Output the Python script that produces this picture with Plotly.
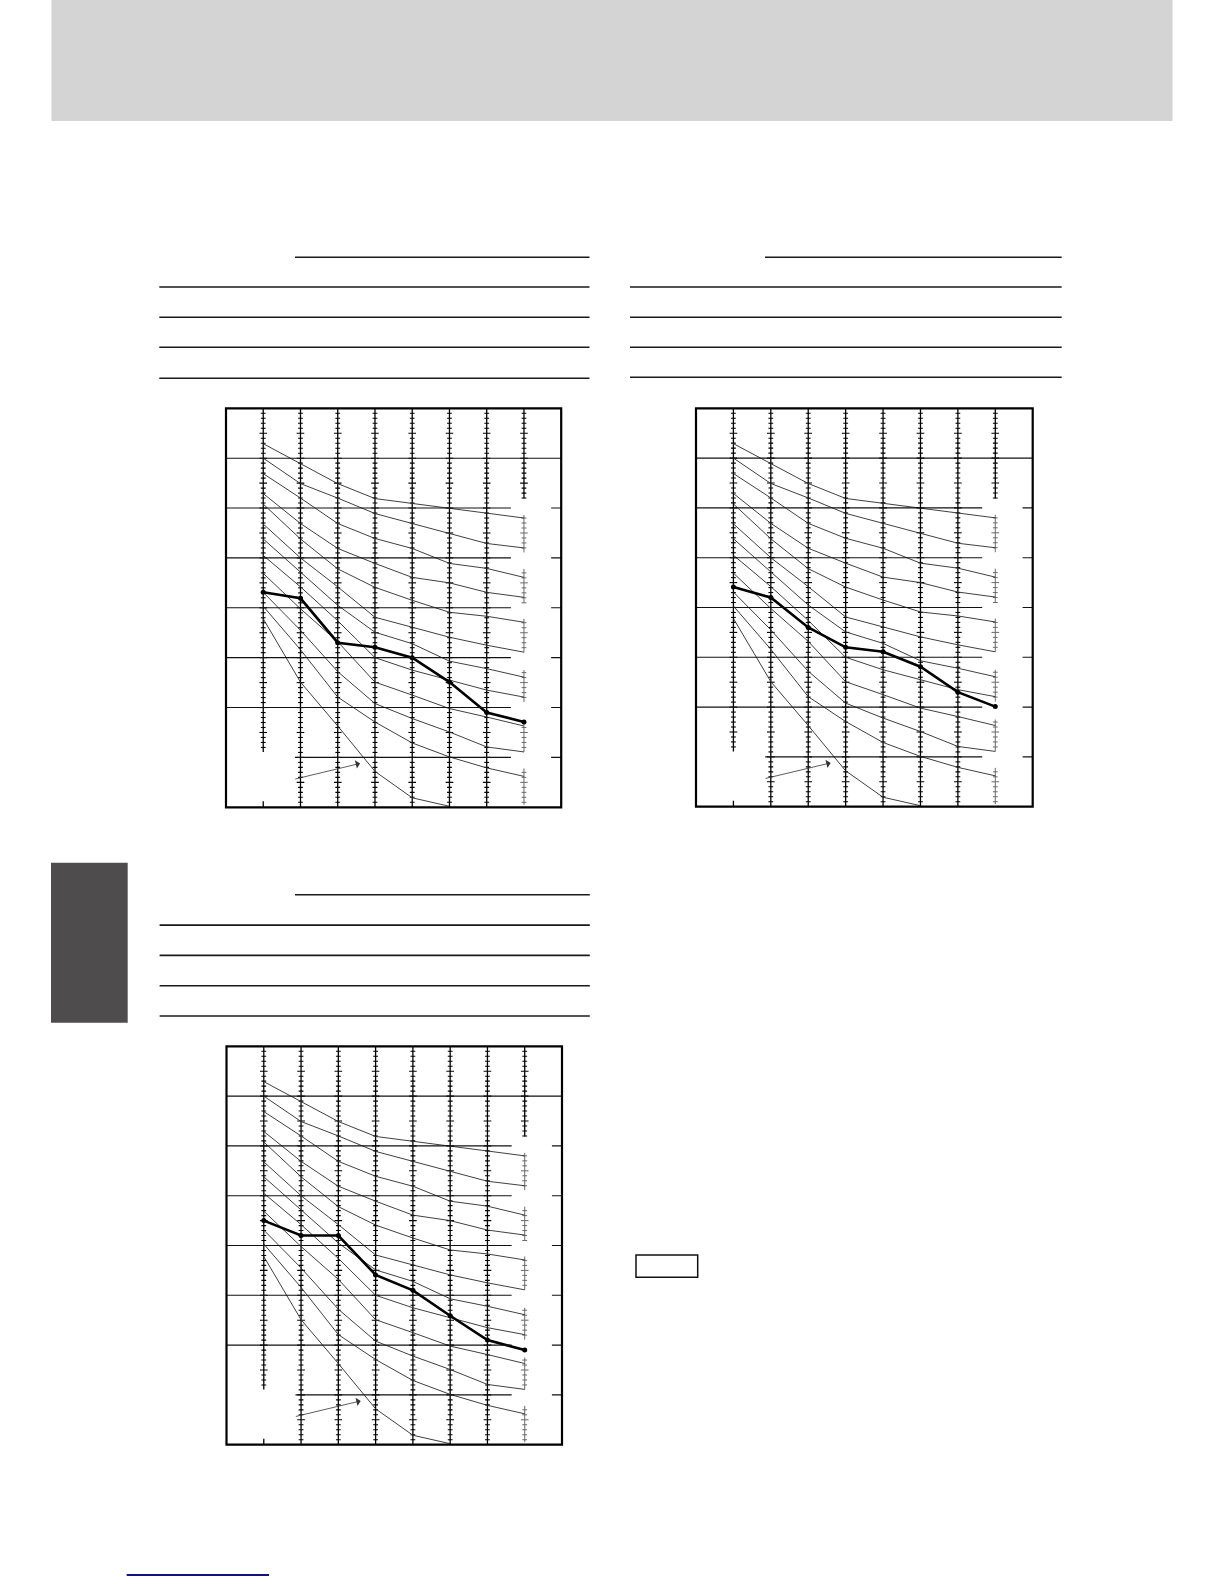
import numpy as np
import plotly.graph_objects as go

W, H = 1224, 1584

# ---- data: 8 vertical scales (x positions 0..7) ----
scale_x = [0, 1, 2, 3, 4, 5, 6, 7]

# thin guide curves (same on all three nomographs)
curve_A = [7.29, 6.89, 6.49, 6.19, 6.09, 5.99, 5.89, 5.80]
curve_B = [7.00, 6.49, 6.20, 5.89, 5.69, 5.49, 5.29, 5.20]
curve_C = [6.69, 6.20, 5.69, 5.39, 5.19, 4.89, 4.79, 4.61]
curve_D = [6.29, 5.69, 5.19, 4.89, 4.61, 4.50, 4.31, 4.21]
curve_E = [6.08, 5.38, 4.78, 4.41, 4.15, 3.91, 3.83, 3.71]
curve_F = [5.68, 5.00, 4.42, 3.81, 3.61, 3.41, 3.25, 3.11]
curve_G = [5.38, 4.72, 4.05, 3.51, 3.28, 2.93, 2.78, 2.61]
curve_H = [5.05, 4.42, 3.74, 3.00, 2.75, 2.55, 2.35, 2.21]
curve_I = [4.69, 3.98, 3.32, 2.51, 2.25, 1.98, 1.81, 1.63]
curve_J = [4.31, 3.55, 2.72, 2.08, 1.78, 1.51, 1.21, 1.11]
curve_K = [4.03, 3.16, 2.21, 1.71, 1.29, 1.01, 0.79, 0.62]
curve_L = [3.78, 2.51, 1.63, 0.72, 0.19, 0.02, None, None]
thin_curves = [curve_A, curve_B, curve_C, curve_D, curve_E, curve_F,
               curve_G, curve_H, curve_I, curve_J, curve_K, curve_L]

# bold result lines of each nomograph
bold_1 = [4.31, 4.19, 3.30, 3.21, 3.00, 2.51, 1.90, 1.71]
bold_2 = [4.41, 4.20, 3.60, 3.20, 3.11, 2.81, 2.30, 2.01]
bold_3 = [4.50, 4.20, 4.20, 3.41, 3.10, 2.59, 2.10, 1.90]
bolds = [bold_1, bold_2, bold_3]

# gridline levels
grid_levels = [1, 2, 3, 4, 5, 6, 7]

# extents of each vertical scale (data y ranges where the scale is drawn)
scale_segments = {
    0: [(1.11, 8.0)],
    1: [(0.0, 8.0)], 2: [(0.0, 8.0)], 3: [(0.0, 8.0)],
    4: [(0.0, 8.0)], 5: [(0.0, 8.0)], 6: [(0.0, 8.0)],
    7: [(6.19, 8.0), (5.11, 5.86), (4.10, 4.78), (3.11, 3.78),
        (2.11, 2.75), (1.11, 1.75), (0.05, 0.78)],
}

# chart placement on the page (pixels: left, top, right, bottom)
boxes = [
    (226.0, 408.3, 561.2, 807.3),
    (696.0, 408.3, 1032.7, 806.7),
    (226.5, 1046.3, 562.0, 1444.7),
]


def px(x):
    return x / W


def py(y):
    return 1 - y / H


fig = go.Figure()
shapes = []
annotations = []

for i, (bl, bt, br, bb) in enumerate(boxes):
    n = "" if i == 0 else str(i + 1)
    xa, ya = "x" + n, "y" + n
    fig.update_layout(**{
        "xaxis" + n: dict(domain=[px(bl), px(br)], range=[-1, 8], visible=False,
                          fixedrange=True),
        "yaxis" + n: dict(domain=[py(bb), py(bt)], range=[0, 8], visible=False,
                          fixedrange=True),
    })
    xw = 37.24  # px per unit for tick sizing
    lx, ly = [], []
    tx, ty = [], []
    gx, gy = [], []
    for k in scale_x:
        for lo, hi in scale_segments[k]:
            faded = (k == 7 and lo < 6)
            target = (gx, gy) if faded else (lx, ly)
            target[0].extend([k, k, None])
            target[1].extend([lo, hi, None])
            for t in np.arange(0.1, 8.0, 0.1):
                t = round(float(t), 2)
                if lo - 1e-6 <= t <= hi + 1e-6:
                    major = abs(t * 2 - round(t * 2)) < 1e-6
                    hw = (3.8 if major else 2.4) / xw
                    tgt = (gx, gy) if faded else (tx, ty)
                    tgt[0].extend([k - hw, k + hw, None])
                    tgt[1].extend([t, t, None])
    lx.extend([0, 0, None])
    ly.extend([0.0, 0.12, None])
    fig.add_trace(go.Scatter(x=lx, y=ly, mode="lines", xaxis=xa, yaxis=ya,
                             line=dict(color="#000", width=1.3), hoverinfo="skip",
                             showlegend=False))
    fig.add_trace(go.Scatter(x=tx, y=ty, mode="lines", xaxis=xa, yaxis=ya,
                             line=dict(color="#000", width=1.1), hoverinfo="skip",
                             showlegend=False))
    fig.add_trace(go.Scatter(x=gx, y=gy, mode="lines", xaxis=xa, yaxis=ya,
                             line=dict(color="#6a6a6a", width=1.0), hoverinfo="skip",
                             showlegend=False))
    for c in thin_curves:
        fig.add_trace(go.Scatter(x=scale_x, y=c, mode="lines", xaxis=xa, yaxis=ya,
                                 line=dict(color="#2a2a2a", width=0.9),
                                 hoverinfo="skip", showlegend=False))
    fig.add_trace(go.Scatter(x=scale_x, y=bolds[i], mode="lines+markers",
                             xaxis=xa, yaxis=ya,
                             line=dict(color="#000", width=2.6),
                             marker=dict(color="#000", size=5),
                             showlegend=False))
    for g in grid_levels:
        if g == 7:
            segs = [(-1, 8)]
        elif g == 1:
            segs = [(0.85, 6.65), (7.73, 8)]
        else:
            segs = [(-1, 6.65), (7.73, 8)]
        for a, b in segs:
            shapes.append(dict(type="line", xref=xa, yref=ya, x0=a, x1=b, y0=g, y1=g,
                               line=dict(color="#111", width=1.1)))
    shapes.append(dict(type="rect", xref=xa + " domain", yref=ya + " domain",
                       x0=0, x1=1, y0=0, y1=1, line=dict(color="#000", width=2.2)))
    annotations.append(dict(x=2.6, y=0.88, ax=0.82, ay=0.56, xref=xa, yref=ya,
                            axref=xa, ayref=ya, text="", showarrow=True,
                            arrowhead=1, arrowsize=1.8, arrowwidth=0.8,
                            arrowcolor="#333"))

# ---- page decorations (paper coords from page pixels) ----
shapes.append(dict(type="rect", xref="paper", yref="paper", layer="below",
                   x0=px(51.5), x1=px(1172.5), y0=py(121), y1=py(0),
                   fillcolor="#d4d4d4", line=dict(width=0)))
shapes.append(dict(type="rect", xref="paper", yref="paper",
                   x0=px(51), x1=px(127.7), y0=py(1022.7), y1=py(862.7),
                   fillcolor="#4f4c4d", line=dict(width=0)))
shapes.append(dict(type="rect", xref="paper", yref="paper",
                   x0=px(636), x1=px(697.7), y0=py(1277.3), y1=py(1255),
                   line=dict(color="#111", width=1.5)))
shapes.append(dict(type="line", xref="paper", yref="paper",
                   x0=px(126.7), x1=px(269), y0=py(1575), y1=py(1575),
                   line=dict(color="#14127e", width=1.8)))

table_rules = [
    (295, 589.5, 257.3), (159.3, 589.5, 287.0), (159.3, 589.5, 317.3),
    (159.3, 589.5, 347.3), (159.3, 589.5, 378.3),
    (765, 1061.7, 257.3), (630, 1061.7, 287.0), (630, 1061.7, 317.3),
    (630, 1061.7, 347.3), (630, 1061.7, 377.3),
    (295, 589.8, 894.8), (159.6, 589.8, 925.1), (159.6, 589.8, 955.4),
    (159.6, 589.8, 985.7), (159.6, 589.8, 1016.0),
]
for a, b, yv in table_rules:
    shapes.append(dict(type="line", xref="paper", yref="paper",
                       x0=px(a), x1=px(b), y0=py(yv), y1=py(yv),
                       line=dict(color="#1a1a1a", width=1.6)))

fig.update_layout(width=W, height=H, margin=dict(l=0, r=0, t=0, b=0),
                  paper_bgcolor="white", plot_bgcolor="rgba(0,0,0,0)",
                  shapes=shapes, annotations=annotations, showlegend=False)

fig.write_html("out.html", config={"displayModeBar": False},
               post_script="document.body.style.margin='0px';"
                           "document.body.style.overflow='hidden';")
